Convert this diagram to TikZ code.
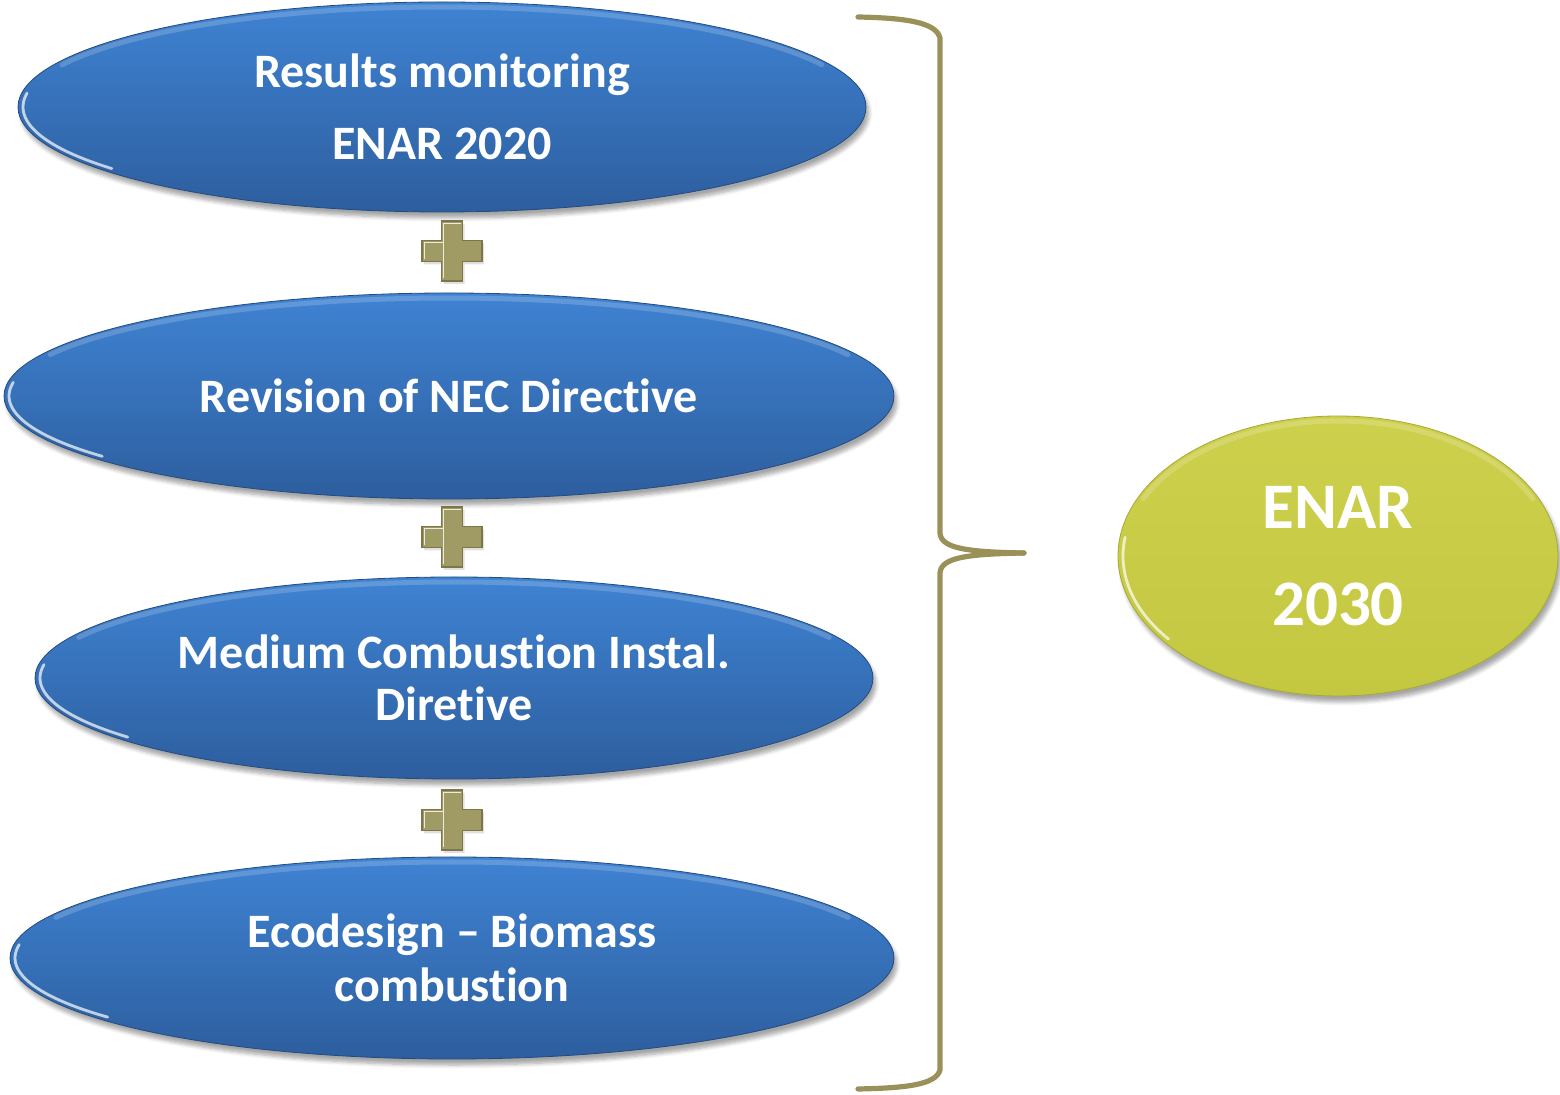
\documentclass[tikz,border=0pt]{standalone}
\usepackage{fontspec}
\setmainfont[Ligatures=NoCommon]{Carlito}
\usetikzlibrary{shapes.geometric,shadows.blur,calc}

\definecolor{bluetop}{HTML}{3F83D3}
\definecolor{bluebot}{HTML}{2D5E9E}
\definecolor{limetop}{HTML}{CDD04C}
\definecolor{limebot}{HTML}{C4C740}
\definecolor{bracecol}{HTML}{9A9159}
\definecolor{plusfill}{HTML}{A09A64}
\definecolor{plusedge}{HTML}{7C7648}

\tikzset{
  bluebox/.style={ellipse, inner sep=0pt, top color=bluetop, bottom color=bluebot,
    draw=bluebot!80!black, line width=0.4pt, text=white,
    blur shadow={shadow xshift=1.5pt, shadow yshift=-3pt, shadow blur steps=6, shadow opacity=35}},
  limebox/.style={ellipse, inner sep=0pt, top color=limetop, bottom color=limebot,
    draw=limebot!85!black, line width=0.4pt, text=white,
    blur shadow={shadow xshift=1.5pt, shadow yshift=-3pt, shadow blur steps=6, shadow opacity=35}},
  rim/.style={white, opacity=0.7, line width=1.4pt, line cap=round},
  toprim/.style={white, opacity=0.18, line width=2.5pt, line cap=round},
  bracestyle/.style={draw=bracecol, line width=2.6pt, line cap=round, line join=round},
  plussign/.pic={
    \fill[black, opacity=0.12] (-10.5+2,-30+3) -- (10.5+2,-30+3) -- (10.5+2,-10.5+3) -- (30+2,-10.5+3)
      -- (30+2,10.5+3) -- (10.5+2,10.5+3) -- (10.5+2,30+3) -- (-10.5+2,30+3) -- (-10.5+2,10.5+3)
      -- (-30+2,10.5+3) -- (-30+2,-10.5+3) -- (-10.5+2,-10.5+3) -- cycle;
    \filldraw[fill=plusfill, draw=plusedge, line width=0.8pt, line join=miter]
      (-10.5,-30) -- (10.5,-30) -- (10.5,-10.5) -- (30,-10.5) -- (30,10.5) -- (10.5,10.5)
      -- (10.5,30) -- (-10.5,30) -- (-10.5,10.5) -- (-30,10.5) -- (-30,-10.5) -- (-10.5,-10.5) -- cycle;
    \draw[white!80!plusfill, line width=0.9pt] (-8.5,27.5) -- (-8.5,-27.5) -- (8.5,-27.5);
    \draw[white!80!plusfill, line width=0.9pt] (-27.5,8.5) -- (-27.5,-8.5) -- (-8.5,-8.5);
  }
}

% glossy light rims along an ellipse: centre, radii
\newcommand\gloss[4]{%
  \draw[rim] plot[domain=142:188, samples=30, smooth] ({#1+#3*cos(\x)},{#2+#4*sin(\x)});
  \draw[toprim] plot[domain=205:335, samples=40, smooth] ({#1+#3*cos(\x)},{#2+#4*sin(\x)});}

\begin{document}
\begin{tikzpicture}[x=0.5pt, y=-0.5pt]
  \useasboundingbox (0,0) rectangle (1560,1095);

  % stacked inputs
  \node[bluebox, minimum width=424pt, minimum height=105pt,
        font=\bfseries\fontsize{24}{36}\selectfont, align=center]
        (e1) at (442,107) {Results monitoring\\ENAR 2020};
  \node[bluebox, minimum width=445pt, minimum height=103pt,
        font=\bfseries\fontsize{24}{26}\selectfont, align=center]
        (e2) at (449,396) {Revision of NEC Directive};
  \node[bluebox, minimum width=419pt, minimum height=101pt,
        font=\bfseries\fontsize{24}{26}\selectfont, align=center]
        (e3) at (454,678) {Medium Combustion Instal.\\Diretive};
  \node[bluebox, minimum width=442pt, minimum height=101pt,
        font=\bfseries\fontsize{24}{27}\selectfont, align=center]
        (e4) at (452,958) {Ecodesign -- Biomass\\combustion};

  % result
  \node[limebox, minimum width=220pt, minimum height=140pt,
        font=\bfseries\fontsize{32.5}{48.5}\selectfont, align=center]
        (res) at (1338,556) {ENAR\\2030};

  % glossy rims
  \gloss{442}{107}{419}{100}
  \gloss{449}{396}{440}{98}
  \gloss{454}{678}{414}{96}
  \gloss{452}{958}{437}{96}
  \gloss{1338}{556}{215}{135}

  % plus signs between the inputs
  \pic at (452,251) {plussign};
  \pic at (452,537) {plussign};
  \pic at (452,820) {plussign};

  % curly brace gathering the inputs
  \coordinate (btop) at (858,17);
  \coordinate (btip) at (1024,553);
  \coordinate (bbot) at (858,1089);
  \draw[bracestyle] (btop) .. controls (905,18) and (936,22) .. (940,38)
    -- (940,533) .. controls (941,548) and (965,552) .. (btip);
  \draw[bracestyle] (btip) .. controls (965,554) and (941,558) .. (940,573)
    -- (940,1070) .. controls (936,1085) and (905,1088) .. (bbot);
\end{tikzpicture}
\end{document}
